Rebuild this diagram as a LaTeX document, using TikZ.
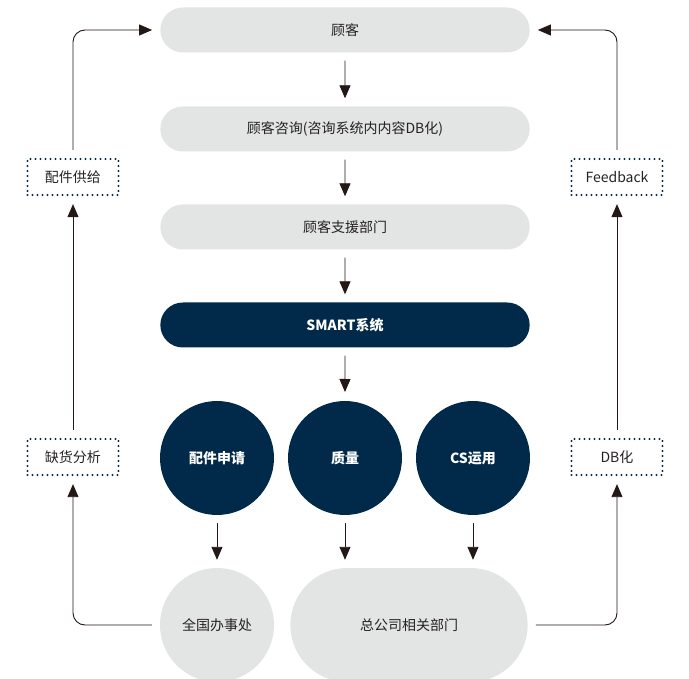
\documentclass[tikz,border=0pt]{standalone}
\usepackage{fontspec}
\setmainfont{Noto Sans CJK SC}
\usepackage{tikz}
\usetikzlibrary{arrows.meta, positioning, calc, shapes.misc}
\definecolor{navyc}{HTML}{012A4A}
\definecolor{greyc}{HTML}{E3E4E4}
\definecolor{inkc}{HTML}{231815}
\definecolor{textc}{HTML}{262222}

\begin{document}
\begin{tikzpicture}[x=1pt, y=-1pt, >={Triangle[length=13pt, width=11pt]},
    pill/.style={rounded rectangle, fill=greyc, text=textc, minimum width=376pt,
      minimum height=45pt, font=\fontsize{14}{16}\selectfont},
    darkdot/.style={circle, fill=navyc, text=white, minimum size=114pt,
      font=\fontsize{14}{16}\selectfont\bfseries},
    greydot/.style={circle, fill=greyc, text=textc, minimum size=114pt,
      font=\fontsize{14}{16}\selectfont},
    tagbox/.style={draw=navyc, line width=2.3pt, dash pattern=on 0pt off 5pt,
      line cap=round, text=textc, minimum width=91pt, minimum height=36pt,
      font=\fontsize{14}{16}\selectfont},
    arr/.style={->, draw=inkc, line width=0.9pt, shorten <=8pt, shorten >=8pt},
    flow/.style={arr, rounded corners=12pt}]
  \useasboundingbox (0,0) rectangle (689,679);
  % main column
  \node[pill] (cust) at (345,30) {顾客};
  \node[pill] (query) at (345,129) {顾客咨询(咨询系统内内容DB化)};
  \node[pill] (support) at (345,227) {顾客支援部门};
  \node[pill, fill=navyc, text=white, font=\fontsize{14}{16}\selectfont\bfseries]
    (smart) at (345,325) {SMART系统};
  \draw[arr] (cust) -- (query);
  \draw[arr] (query) -- (support);
  \draw[arr] (support) -- (smart);
  \draw[arr] (smart) -- (smart.south |- 0,400);
  % functions
  \node[darkdot] (parts) at (217,458) {配件申请};
  \node[darkdot] (quality) at (345,458) {质量};
  \node[darkdot] (csuse) at (473,458) {CS运用};
  % receivers
  \node[greydot] (office) at (217,625) {全国办事处};
  \node[rounded rectangle, fill=greyc, text=textc, minimum width=244pt,
    minimum height=114pt, font=\fontsize{14}{16}\selectfont]
    (hq) at (409,625) {总公司相关部门};
  \draw[arr] (parts) -- (office);
  \draw[arr] (quality.south) -- (quality.south |- hq.north);
  \draw[arr] (csuse.south) -- (csuse.south |- hq.north);
  % left loop
  \node[tagbox] (shortage) at (73,457) {缺货分析};
  \node[tagbox] (supply) at (73,177) {配件供给};
  \draw[flow] (office.west) -| (shortage.south);
  \draw[arr] (shortage) -- (supply);
  \draw[flow] (supply.north) |- (cust.west);
  % right loop
  \node[tagbox] (dbtag) at (617,457) {DB化};
  \node[tagbox] (feedback) at (617,177) {Feedback};
  \draw[flow] (hq.east) -| (dbtag.south);
  \draw[arr] (dbtag) -- (feedback);
  \draw[flow] (feedback.north) |- (cust.east);
\end{tikzpicture}
\end{document}
